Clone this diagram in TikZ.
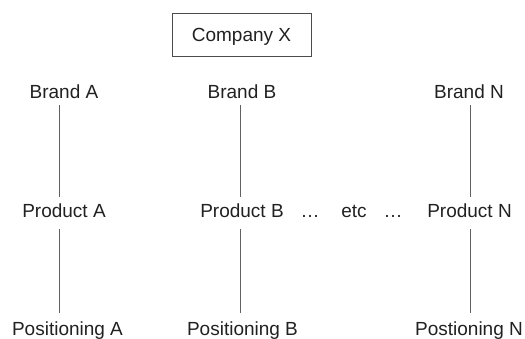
\documentclass[tikz,border=0pt]{standalone}
\usepackage{fontspec}
\setmainfont{Liberation Sans}
\begin{document}
\begin{tikzpicture}[x=1pt,y=-1pt,
  label/.style={font=\fontsize{19}{22}\selectfont, text=black!87, inner sep=0pt,
    text height=13.6pt, text depth=4pt, anchor=base},
  headbox/.style={draw=black!70, line width=0.9pt, font=\fontsize{19}{22}\selectfont,
    text=black!87, minimum width=139pt, minimum height=43pt, inner sep=0pt,
    text height=13.6pt, text depth=0pt},
  link/.style={draw=black!62, line width=0.9pt},
  upper/.style={link, shorten <=3pt, shorten >=6.4pt},
  lower/.style={link, shorten <=8pt, shorten >=8.4pt}]
\useasboundingbox (0,0) rectangle (525,338);

% company at the top
\node[headbox] (company) at (241.5,34.5) {Company X};

% axes of the three columns
\coordinate (axA) at (59,0);
\coordinate (axB) at (240,0);
\coordinate (axN) at (470,0);

% brands
\node[label] (brandA) at (64,98) {Brand A};
\node[label] (brandB) at (242,98) {Brand B};
\node[label] (brandN) at (469,98) {Brand N};

% products
\node[label] (prodA) at (64,217) {Product A};
\node[label] (prodB) at (242,217) {Product B};
\node[label] (dotsL) at (310,217) {…};
\node[label] (etc) at (354,217) {etc};
\node[label] (dotsR) at (393,217) {…};
\node[label] (prodN) at (469.5,217) {Product N};

% positionings
\node[label] (posA) at (67.5,335) {Positioning A};
\node[label] (posB) at (242.5,335) {Positioning B};
\node[label] (posN) at (469,335) {Postioning N};

% vertical links
\draw[upper] (brandA.south -| axA) -- (prodA.north -| axA);
\draw[upper] (brandB.south -| axB) -- (prodB.north -| axB);
\draw[upper] (brandN.south -| axN) -- (prodN.north -| axN);
\draw[lower] (prodA.south -| axA) -- (posA.north -| axA);
\draw[lower] (prodB.south -| axB) -- (posB.north -| axB);
\draw[lower] (prodN.south -| axN) -- (posN.north -| axN);
\end{tikzpicture}
\end{document}
